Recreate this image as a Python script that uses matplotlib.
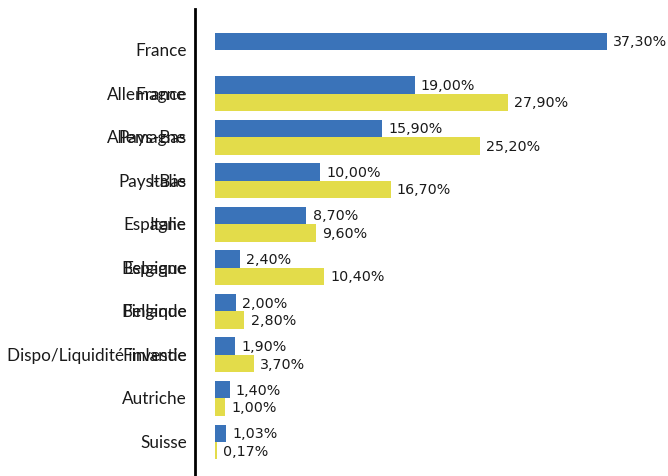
import numpy as np
import matplotlib
matplotlib.use('Agg')
import matplotlib.pyplot as plt

# two overlapping sets of category labels, as in the source chart
labels_a = ['France', 'Allemagne', 'Pays-Bas', 'Italie', 'Espagne', 'Belgique',
            'Finlande', 'Dispo/Liquidité investie', 'Autriche', 'Suisse']
labels_b = ['', 'France', 'Allemagne', 'Pays-Bas', 'Italie', 'Espagne',
            'Belgique', 'Finlande', '', '']
blue_vals = [37.30, 19.00, 15.90, 10.00, 8.70, 2.40, 2.00, 1.90, 1.40, 1.03]
yellow_vals = [np.nan, 27.90, 25.20, 16.70, 9.60, 10.40, 2.80, 3.70, 1.00, 0.17]

BLUE = '#3A73B9'
YELLOW = '#E3DC4A'


def fmt(v):
    return f'{v:.2f}'.replace('.', ',') + '%'


fig = plt.figure(figsize=(6.68, 4.77), dpi=100)
ax = fig.add_axes([195 / 668, 0, 1 - 195 / 668, 467 / 477])

y = np.arange(len(labels_a))
h = 0.4
ax.barh(y - h / 2, blue_vals, height=h, color=BLUE)
ax.barh(y + h / 2, yellow_vals, height=h, color=YELLOW)

val_style = dict(textcoords='offset points', ha='left', va='center',
                 fontsize=10.3, family='DejaVu Sans', color='#1a1a1a')
for yi, v in zip(y, blue_vals):
    ax.annotate(fmt(v), xy=(v, yi - h / 2), xytext=(4.5, 0), **val_style)
for yi, v in zip(y, yellow_vals):
    if np.isnan(v):
        continue
    ax.annotate(fmt(v), xy=(v, yi + h / 2), xytext=(4.5, 0), **val_style)

for labels in (labels_a, labels_b):
    for yi, lab in zip(y, labels):
        if lab:
            ax.annotate(lab, xy=(0, yi), xycoords=ax.get_yaxis_transform(),
                        xytext=(-6, 0), textcoords='offset points',
                        ha='right', va='center', fontsize=12.3, family='Lato',
                        color='#1a1a1a')

ax.set_xlim(-1.9, 43.1)
ax.set_ylim(9.78, -0.94)
ax.set_xticks([])
ax.set_yticks([])
for s in ['top', 'right', 'bottom']:
    ax.spines[s].set_visible(False)
ax.spines['left'].set_linewidth(2)

fig.savefig('out.png', dpi=100)
